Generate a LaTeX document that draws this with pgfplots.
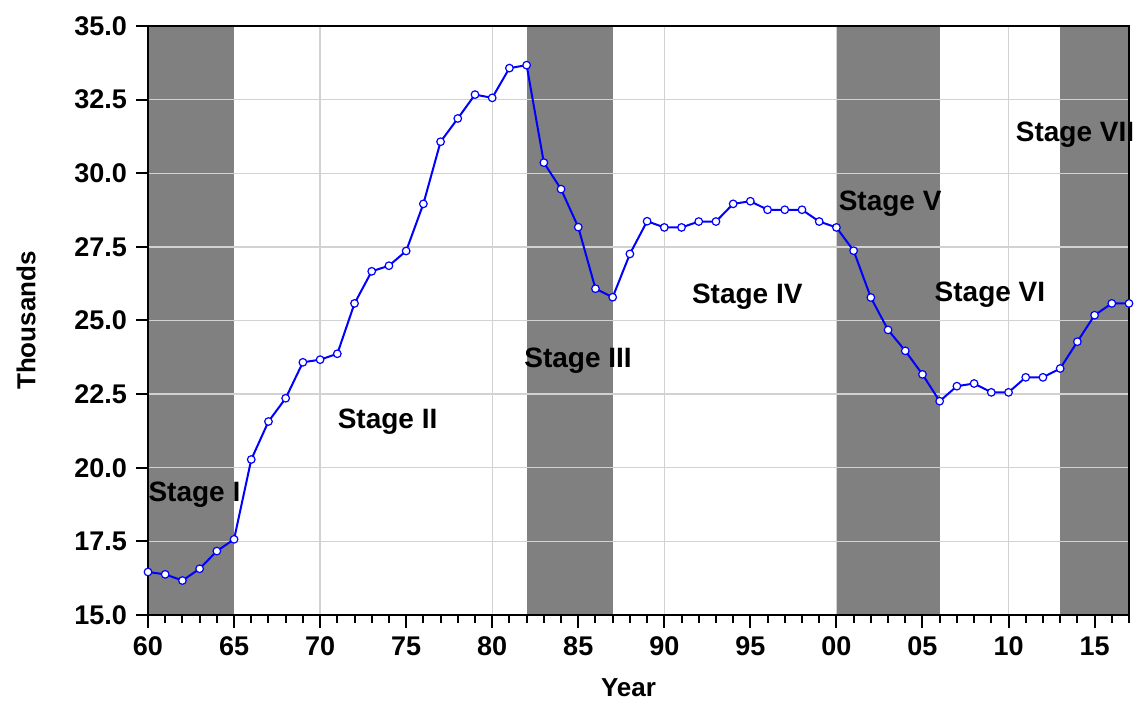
\documentclass[border=0pt]{standalone}
\usepackage{pgfplots}
\pgfplotsset{compat=1.18}
\usepackage{fontspec}
\setmainfont{Liberation Sans}

\pgfplotstableread{
year val
1960 16.46
1961 16.38
1962 16.17
1963 16.57
1964 17.17
1965 17.57
1966 20.28
1967 21.57
1968 22.36
1969 23.58
1970 23.67
1971 23.87
1972 25.58
1973 26.67
1974 26.86
1975 27.36
1976 28.96
1977 31.07
1978 31.86
1979 32.67
1980 32.56
1981 33.57
1982 33.67
1983 30.36
1984 29.46
1985 28.17
1986 26.08
1987 25.79
1988 27.26
1989 28.37
1990 28.16
1991 28.16
1992 28.36
1993 28.36
1994 28.96
1995 29.05
1996 28.76
1997 28.76
1998 28.76
1999 28.36
2000 28.16
2001 27.37
2002 25.78
2003 24.68
2004 23.97
2005 23.17
2006 22.26
2007 22.77
2008 22.86
2009 22.56
2010 22.56
2011 23.07
2012 23.07
2013 23.37
2014 24.28
2015 25.18
2016 25.58
2017 25.58
}\thousands

\definecolor{gridgray}{RGB}{210,210,210}
\definecolor{band}{RGB}{128,128,128}

\begin{document}
\begin{tikzpicture}
\begin{axis}[
    scale only axis,
    width=490.5pt, height=294.5pt,
    xmin=1960, xmax=2017, ymin=15, ymax=35,
    clip=false,
    xtick pos=bottom, ytick pos=left,
    xtick align=outside, ytick align=outside,
    major tick length=5.5pt,
    xtick style={draw=none}, ytick style={draw=none},
    axis line style={black, line width=0.8pt},
    xtick={1960,1965,...,2015},
    xticklabels={60,65,70,75,80,85,90,95,00,05,10,15},
    ytick={15,17.5,...,35},
    yticklabel style={/pgf/number format/fixed, /pgf/number format/fixed zerofill,
        /pgf/number format/precision=1, xshift=-1.5pt},
    /pgf/number format/assume math mode=true,
    ticklabel style={font=\fontsize{13.5}{15}\selectfont\bfseries},
    xticklabel style={yshift=-2pt},
    xlabel={Year},
    ylabel={Thousands},
    every axis x label/.style={at={(rel axis cs:0.5,0)}, anchor=center, xshift=-5pt, yshift=-36.5pt,
        font=\fontsize{13}{15}\selectfont\bfseries},
    every axis y label/.style={at={(rel axis cs:0,0.5)}, anchor=center, xshift=-61pt, rotate=90,
        font=\fontsize{13}{15}\selectfont\bfseries},
]
% shaded stages
\addplot[draw=none, fill=band] coordinates {(1960.03,15.03) (1960.03,34.97) (1965,34.97) (1965,15.03)} -- cycle;
\addplot[draw=none, fill=band] coordinates {(1982,15.03) (1982,34.97) (1987,34.97) (1987,15.03)} -- cycle;
\addplot[draw=none, fill=band] coordinates {(2000,15.03) (2000,34.97) (2006,34.97) (2006,15.03)} -- cycle;
\addplot[draw=none, fill=band] coordinates {(2013,15.03) (2013,34.97) (2016.97,34.97) (2016.97,15.03)} -- cycle;

% grid lines
\pgfplotsinvokeforeach{17.5,20,22.5,25,27.5,30,32.5}{
  \addplot[gridgray, line width=0.7pt] coordinates {(1960.03,#1) (2016.97,#1)};
}
\pgfplotsinvokeforeach{1970,1980,1990,2000,2010}{
  \addplot[gridgray, line width=0.7pt] coordinates {(#1,15.03) (#1,34.97)};
}

% tick marks, outside the frame
\pgfplotsinvokeforeach{1960,...,2017}{
  \addplot[black, line width=1pt, mark=none] coordinates {(#1,15) (#1,14.74)};
}
\pgfplotsinvokeforeach{1960,1965,...,2015}{
  \addplot[black, line width=1pt, mark=none] coordinates {(#1,15) (#1,14.55)};
}
\pgfplotsinvokeforeach{15,17.5,20,22.5,25,27.5,30,32.5,35}{
  \addplot[black, line width=1pt, mark=none] coordinates {(1960,#1) (1959.3,#1)};
}

\addplot[blue, line width=1pt, mark=*, mark size=1.9pt,
    mark options={fill=white, draw=blue, line width=0.6pt}] table[x=year, y=val] {\thousands};

\begin{scope}[every node/.style={font=\fontsize{14}{16}\selectfont\bfseries, inner sep=0pt}]
\node at (axis cs:1962.70,19.07) {Stage I};
\node at (axis cs:1973.92,21.56) {Stage II};
\node at (axis cs:1984.99,23.62) {Stage III};
\node at (axis cs:1994.82,25.81) {Stage IV};
\node at (axis cs:2003.12,28.98) {Stage V};
\node at (axis cs:2008.92,25.87) {Stage VI};
\node at (axis cs:2013.86,31.30) {Stage VII};
\end{scope}

\coordinate (bl) at (rel axis cs:0,0);
\coordinate (tr) at (rel axis cs:1,1);
\end{axis}
\path ([shift={(-74pt,-42.5pt)}]bl) rectangle ([shift={(5.5pt,13pt)}]tr);
\end{tikzpicture}
\end{document}
